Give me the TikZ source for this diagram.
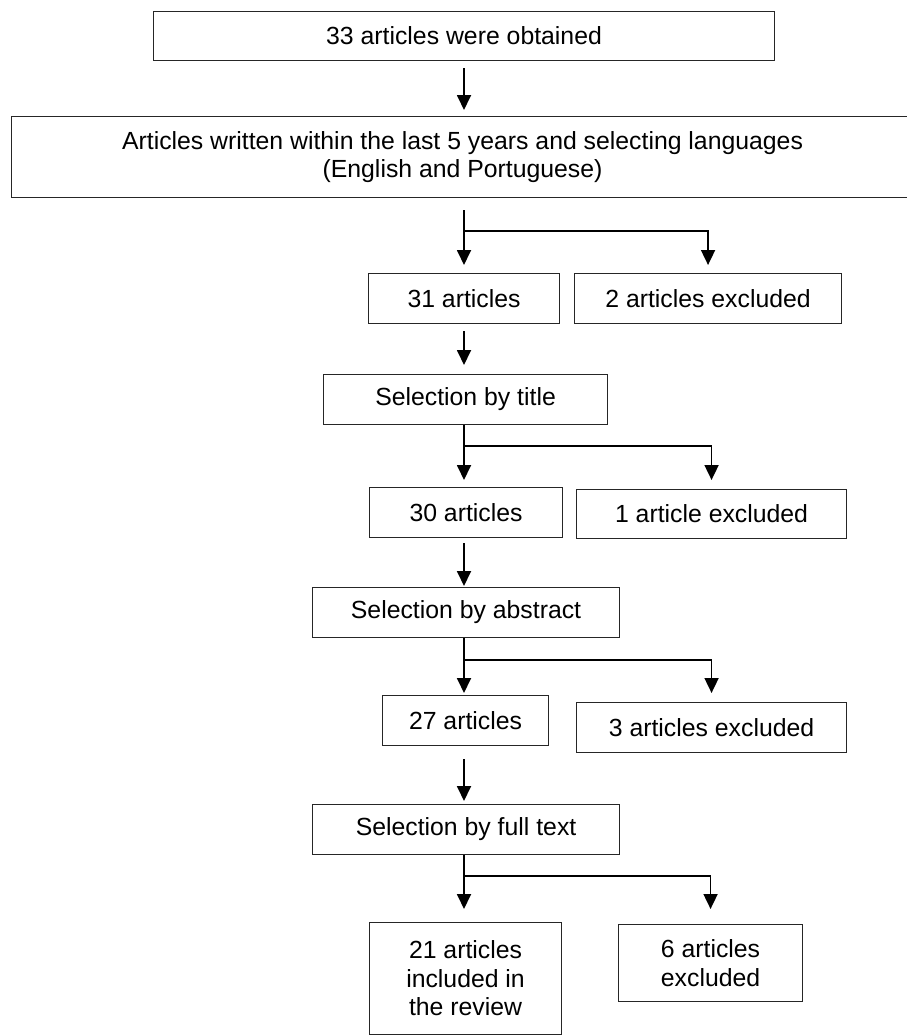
\documentclass[tikz,border=0pt]{standalone}
\usepackage{fontspec}
\setmainfont{Liberation Sans}
\usetikzlibrary{arrows.meta,calc}
\begin{document}
\begin{tikzpicture}[x=1pt,y=1pt,
  box/.style={draw=black!85, line width=1.1pt, fill=white, inner sep=0pt, anchor=north west,
    align=center, font=\fontsize{24.8}{28.5}\selectfont},
  arr/.style={line width=1.8pt, -{Triangle[length=15pt,width=14pt]}}]
\useasboundingbox (0,0) rectangle (907,-1036);
\coordinate (sx) at (464,0);
% boxes
\node[box, minimum width=621, minimum height=49] (b1) at (153,-11) {33 articles were obtained};
\node[box, minimum width=902, minimum height=81] (b2) at (11,-116) {Articles written within the last 5 years and selecting languages\\(English and Portuguese)};
\node[box, minimum width=191, minimum height=50] (b31) at (368,-273) {31 articles};
\node[box, minimum width=267, minimum height=50] (bx2) at (574,-273) {2 articles excluded};
\node[box, minimum width=284, minimum height=50] (bt) at (323,-374) {Selection by title};
\node[box, minimum width=193, minimum height=50] (b30) at (369,-487) {30 articles};
\node[box, minimum width=270, minimum height=49] (bx1) at (576,-489) {1 article excluded};
\node[box, minimum width=307, minimum height=50] (ba) at (312,-587) {Selection by abstract};
\node[box, minimum width=166, minimum height=50] (b27) at (382,-695) {27 articles};
\node[box, minimum width=270, minimum height=50] (bx3) at (576,-702) {3 articles excluded};
\node[box, minimum width=307, minimum height=50] (bf) at (312,-804) {Selection by full text};
\node[box, minimum width=192, minimum height=112] (b21) at (369,-922) {21 articles\\included in\\the review};
\node[box, minimum width=184, minimum height=77] (bx6) at (618,-924) {6 articles\\excluded};
% straight arrows
\draw[arr] ($(b1.south -| sx)+(0,-7)$) -- ($(b2.north -| sx)+(0,6)$);
\draw[arr] ($(b31.south -| sx)+(0,-7)$) -- ($(bt.north -| sx)+(0,9)$);
\draw[arr] ($(b30.south -| sx)+(0,-5)$) -- ($(ba.north -| sx)+(0,1)$);
\draw[arr] ($(b27.south -| sx)+(0,-13)$) -- ($(bf.north -| sx)+(0,3)$);
% branch 1
\coordinate (j1) at ($(b2.south -| sx)+(0,-33)$);
\draw[arr] ($(b2.south -| sx)+(0,-12)$) -- ($(b31.north -| sx)+(0,8)$);
\draw[arr] (j1) -| ($(bx2.north)+(0,8)$);
% branch 2
\coordinate (j2) at ($(bt.south -| sx)+(0,-21)$);
\draw[arr] (bt.south -| sx) -- ($(b30.north -| sx)+(0,7)$);
\draw[arr] (j2) -| ($(bx1.north)+(0,9)$);
% branch 3
\coordinate (j3) at ($(ba.south -| sx)+(0,-22)$);
\draw[arr] (ba.south -| sx) -- ($(b27.north -| sx)+(0,2)$);
\draw[arr] (j3) -| ($(bx3.north)+(0,9)$);
% branch 4
\coordinate (j4) at ($(bf.south -| sx)+(0,-21)$);
\draw[arr] (bf.south -| sx) -- ($(b21.north -| sx)+(0,13)$);
\draw[arr] (j4) -| ($(bx6.north)+(0,15)$);
\end{tikzpicture}
\end{document}
